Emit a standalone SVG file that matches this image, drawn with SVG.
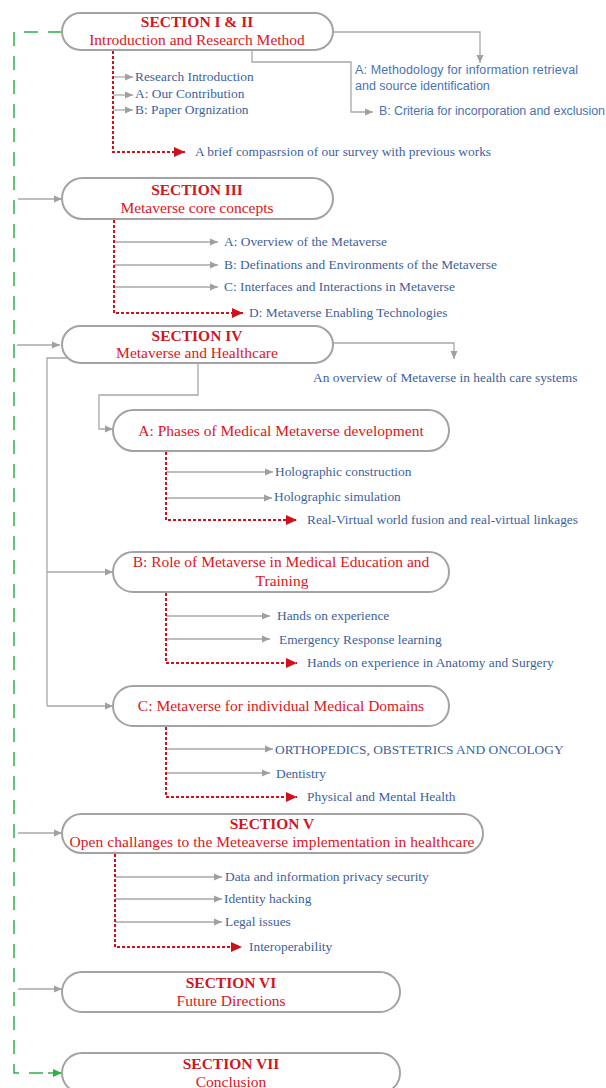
<svg xmlns="http://www.w3.org/2000/svg" width="606" height="1088" viewBox="0 0 606 1088">
  <style>
    .pill { fill: #ffffff; stroke: #a3a3a3; stroke-width: 2; }
    .head { font-family: "Liberation Serif", "Times New Roman", serif; font-weight: bold; font-size: 15.5px; fill: #d0161e; text-anchor: middle; }
    .title { font-family: "Liberation Serif", "Times New Roman", serif; font-size: 15.5px; fill: #e0141c; text-anchor: middle; }
    .item { font-family: "Liberation Serif", "Times New Roman", serif; font-size: 13.4px; fill: #3d5f9e; }
    .sans { font-family: "Liberation Sans", Arial, sans-serif; font-size: 12.5px; fill: #4a72b4; }
    .gray { fill: none; stroke: #a8a8a8; stroke-width: 1.3; }
    .red { fill: none; stroke: #d0101a; stroke-width: 2; stroke-dasharray: 3 2; }
    .green { fill: none; stroke: #2db04b; stroke-width: 1.5; stroke-dasharray: 14 10; }
  </style>
  <defs>
    <marker id="ag" markerUnits="userSpaceOnUse" markerWidth="9" markerHeight="8" refX="8" refY="4" orient="auto">
      <path d="M0,0.5 L8,4 L0,7.5 z" fill="#a0a0a0"/>
    </marker>
    <marker id="ar" markerUnits="userSpaceOnUse" markerWidth="12" markerHeight="10" refX="11" refY="5" orient="auto">
      <path d="M0,0 L11,5 L0,10 z" fill="#d0101a"/>
    </marker>
    <marker id="agr" markerUnits="userSpaceOnUse" markerWidth="10" markerHeight="9" refX="9" refY="4.5" orient="auto">
      <path d="M0,0.5 L9,4.5 L0,8.5 z" fill="#2db04b"/>
    </marker>
  </defs>

  <!-- connectors -->
  <g id="connectors">
    <!-- green backbone -->
    <path class="green" d="M62,32 H14 V1073 H48"/>
    <path d="M48,1073 H62" fill="none" stroke="#2db04b" stroke-width="1.5" marker-end="url(#agr)"/>

    <!-- backbone to sections -->
    <path class="gray" d="M18,199 H62" marker-end="url(#ag)"/>
    <path class="gray" d="M17,345 H60" marker-end="url(#ag)"/>
    <path class="gray" d="M18,833 H62" marker-end="url(#ag)"/>
    <path class="gray" d="M18,989 H62" marker-end="url(#ag)"/>

    <!-- Section I & II -->
    <path class="gray" d="M333,32 H480 V63" marker-end="url(#ag)"/>
    <path class="gray" d="M252,50 V62 H351 V112 H373" marker-end="url(#ag)"/>
    <path class="gray" d="M113,77 H133" marker-end="url(#ag)"/>
    <path class="gray" d="M113,95 H133" marker-end="url(#ag)"/>
    <path class="gray" d="M113,110 H133" marker-end="url(#ag)"/>
    <path class="red" d="M113,51 V152 H185" marker-end="url(#ar)"/>

    <!-- Section III -->
    <path class="gray" d="M114,242 H218" marker-end="url(#ag)"/>
    <path class="gray" d="M114,265 H218" marker-end="url(#ag)"/>
    <path class="gray" d="M114,287 H218" marker-end="url(#ag)"/>
    <path class="red" d="M114,220 V313 H243" marker-end="url(#ar)"/>

    <!-- Section IV -->
    <path class="gray" d="M333,343 H454 V359" marker-end="url(#ag)"/>
    <path class="gray" d="M198,363 V395 H99 V429 H113" marker-end="url(#ag)"/>
    <path class="gray" d="M68,358 H47 V706"/>
    <path class="gray" d="M47,572 H113" marker-end="url(#ag)"/>
    <path class="gray" d="M47,706 H113" marker-end="url(#ag)"/>

    <!-- IV-A -->
    <path class="gray" d="M166,472 H273" marker-end="url(#ag)"/>
    <path class="gray" d="M166,498 H272" marker-end="url(#ag)"/>
    <path class="red" d="M166,452 V520 H297" marker-end="url(#ar)"/>

    <!-- IV-B -->
    <path class="gray" d="M166,616 H270" marker-end="url(#ag)"/>
    <path class="gray" d="M166,639 H270" marker-end="url(#ag)"/>
    <path class="red" d="M166,593 V663 H297" marker-end="url(#ar)"/>

    <!-- IV-C -->
    <path class="gray" d="M166,749 H273" marker-end="url(#ag)"/>
    <path class="gray" d="M166,773 H270" marker-end="url(#ag)"/>
    <path class="red" d="M166,727 V797 H297" marker-end="url(#ar)"/>

    <!-- Section V -->
    <path class="gray" d="M115,877 H222" marker-end="url(#ag)"/>
    <path class="gray" d="M115,899 H222" marker-end="url(#ag)"/>
    <path class="gray" d="M115,922 H222" marker-end="url(#ag)"/>
    <path class="red" d="M115,854 V947 H242" marker-end="url(#ar)"/>
  </g>

  <!-- Section I & II -->
  <g id="sec1">
    <rect class="pill" x="62" y="13" width="271" height="37" rx="18.5"/>
    <text class="head" x="197" y="27">SECTION I &amp; II</text>
    <text class="title" x="197" y="45">Introduction and Research Method</text>
  </g>
  <g id="sec1-items">
    <text class="item" x="135" y="81">Research Introduction</text>
    <text class="item" x="135" y="98">A: Our Contribution</text>
    <text class="item" x="135" y="114">B: Paper Orgnization</text>
    <text class="item" x="195" y="156">A brief  compasrsion of our survey with previous works</text>
    <text class="sans" x="355" y="74" textLength="223">A: Methodology for information retrieval</text>
    <text class="sans" x="355" y="90">and source identification</text>
    <text class="sans" x="379" y="115" textLength="226">B: Criteria for incorporation and exclusion</text>
  </g>

  <!-- Section III -->
  <g id="sec3">
    <rect class="pill" x="62" y="178" width="271" height="41" rx="20.5"/>
    <text class="head" x="197" y="195">SECTION III</text>
    <text class="title" x="197" y="213">Metaverse core concepts</text>
  </g>
  <g id="sec3-items">
    <text class="item" x="224" y="246">A: Overview of the Metaverse</text>
    <text class="item" x="224" y="269">B: Definations and Environments of the Metaverse</text>
    <text class="item" x="224" y="291">C: Interfaces and Interactions in Metaverse</text>
    <text class="item" x="249" y="317">D: Metaverse Enabling Technologies</text>
  </g>

  <!-- Section IV -->
  <g id="sec4">
    <rect class="pill" x="62" y="326" width="271" height="37" rx="18.5"/>
    <text class="head" x="197" y="341">SECTION IV</text>
    <text class="title" x="197" y="358">Metaverse and Healthcare</text>
  </g>
  <g id="sec4-overview">
    <text class="item" x="313" y="382">An overview of Metaverse in health care systems</text>
  </g>

  <!-- IV-A -->
  <g id="sec4a">
    <rect class="pill" x="113" y="410" width="336" height="41" rx="20.5"/>
    <text class="title" x="281" y="436">A: Phases of Medical Metaverse development</text>
  </g>
  <g id="sec4a-items">
    <text class="item" x="275" y="476">Holographic construction</text>
    <text class="item" x="274" y="501">Holographic simulation</text>
    <text class="item" x="307" y="524">Real-Virtual world fusion and real-virtual linkages</text>
  </g>

  <!-- IV-B -->
  <g id="sec4b">
    <rect class="pill" x="113" y="552" width="336" height="40" rx="20"/>
    <text class="title" x="281" y="567">B: Role of Metaverse in Medical Education and</text>
    <text class="title" x="282" y="586">Training</text>
  </g>
  <g id="sec4b-items">
    <text class="item" x="277" y="620">Hands on experience</text>
    <text class="item" x="279" y="644">Emergency Response learning</text>
    <text class="item" x="307" y="667">Hands on experience in Anatomy and Surgery</text>
  </g>

  <!-- IV-C -->
  <g id="sec4c">
    <rect class="pill" x="113" y="686" width="336" height="40" rx="20"/>
    <text class="title" x="281" y="711">C: Metaverse for individual Medical Domains</text>
  </g>
  <g id="sec4c-items">
    <text class="item" x="275" y="754">ORTHOPEDICS, OBSTETRICS AND ONCOLOGY</text>
    <text class="item" x="276" y="778">Dentistry</text>
    <text class="item" x="307" y="801">Physical and Mental Health</text>
  </g>

  <!-- Section V -->
  <g id="sec5">
    <rect class="pill" x="62" y="814" width="421" height="39" rx="19.5"/>
    <text class="head" x="272" y="829">SECTION V</text>
    <text class="title" x="272" y="847" textLength="405">Open challanges to the Meteaverse implementation in healthcare</text>
  </g>
  <g id="sec5-items">
    <text class="item" x="225" y="881">Data and information privacy security</text>
    <text class="item" x="224" y="903">Identity hacking</text>
    <text class="item" x="225" y="926">Legal issues</text>
    <text class="item" x="249" y="951">Interoperability</text>
  </g>

  <!-- Section VI -->
  <g id="sec6">
    <rect class="pill" x="62" y="972" width="338" height="40" rx="20"/>
    <text class="head" x="231" y="988">SECTION VI</text>
    <text class="title" x="231" y="1006">Future Directions</text>
  </g>

  <!-- Section VII -->
  <g id="sec7">
    <rect class="pill" x="62" y="1053" width="338" height="40" rx="20"/>
    <text class="head" x="231" y="1069">SECTION VII</text>
    <text class="title" x="231" y="1087">Conclusion</text>
  </g>
</svg>
